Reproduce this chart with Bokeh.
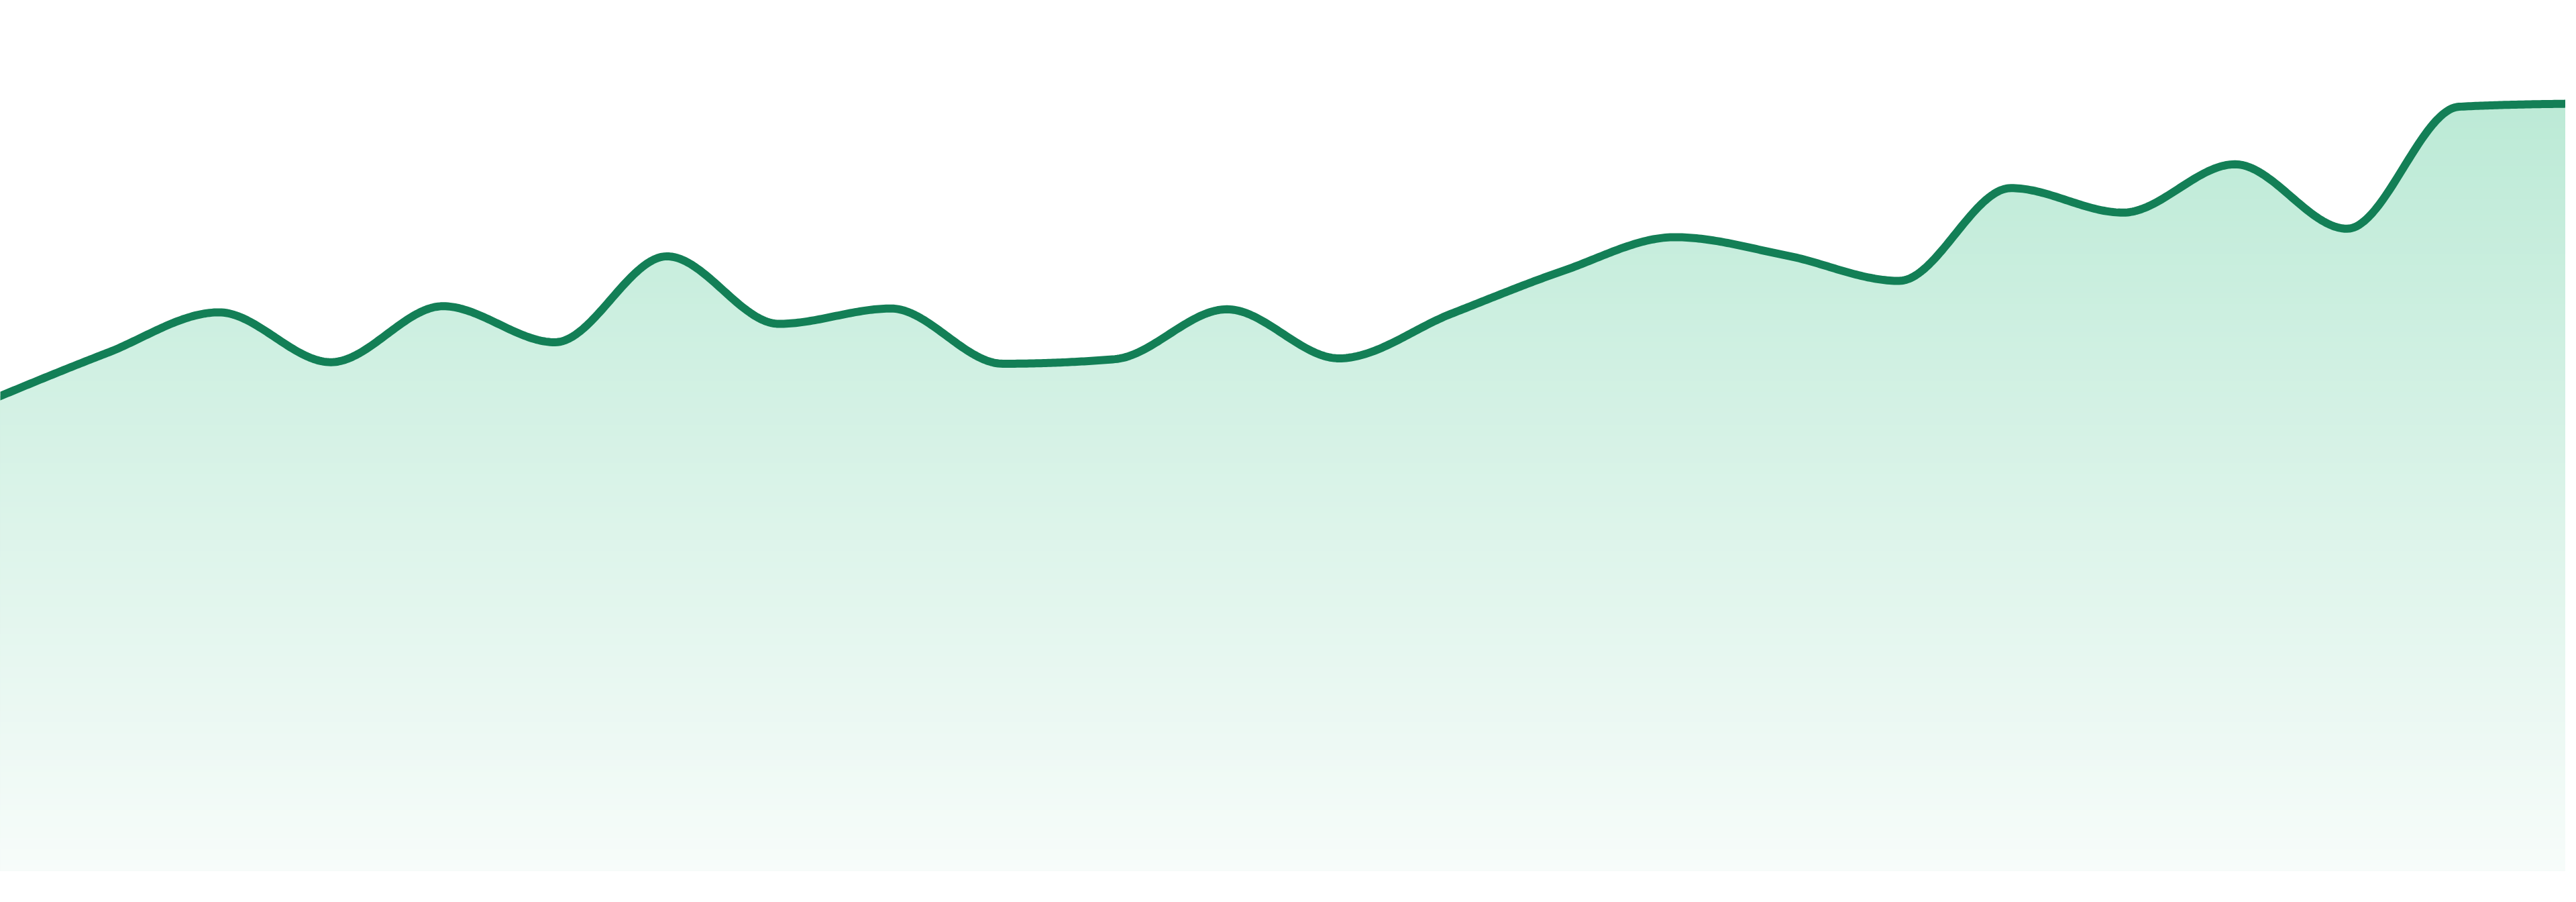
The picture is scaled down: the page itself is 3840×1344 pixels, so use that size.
import numpy as np
from bokeh.plotting import figure
from bokeh.models import Range1d
from bokeh.embed import file_html
from bokeh.resources import INLINE

# ---- data ----
periods = list(range(24))
values = [61.6, 67.5, 72.8, 66.3, 73.6, 68.9, 80.1, 71.3, 73.3, 66.1, 66.7, 73.2,
          66.8, 72.6, 78.2, 82.6, 80.2, 76.9, 89.0, 85.8, 92.1, 83.7, 99.6, 100.0]

LINE_COLOR = "#137f56"
TOP_RGB = (188, 234, 214)
BOTTOM_RGB = (247, 252, 250)


def monotone_x(xs, ys, n=48):
    """d3.curveMonotoneX rendering of the data points as cubic Bezier segments."""
    x = np.asarray(xs, float)
    y = np.asarray(ys, float)
    h = np.diff(x)
    s = np.diff(y) / h
    t = np.zeros_like(y)
    sgn = lambda v: -1.0 if v < 0 else 1.0
    for i in range(1, len(y) - 1):
        s0, s1 = s[i - 1], s[i]
        h0, h1 = h[i - 1], h[i]
        p = (s0 * h1 + s1 * h0) / (h0 + h1)
        t[i] = (sgn(s0) + sgn(s1)) * min(abs(s0), abs(s1), 0.5 * abs(p))
    t[0] = (3 * s[0] - t[1]) / 2
    t[-1] = (3 * s[-1] - t[-2]) / 2
    out_x, out_y = [], []
    u = np.linspace(0, 1, n)
    for i in range(len(y) - 1):
        dx = h[i] / 3.0
        P0 = (x[i], y[i])
        P1 = (x[i] + dx, y[i] + dx * t[i])
        P2 = (x[i + 1] - dx, y[i + 1] - dx * t[i + 1])
        P3 = (x[i + 1], y[i + 1])
        uu = u if i == 0 else u[1:]
        b0 = (1 - uu) ** 3
        b1 = 3 * (1 - uu) ** 2 * uu
        b2 = 3 * (1 - uu) * uu ** 2
        b3 = uu ** 3
        out_x.append(b0 * P0[0] + b1 * P1[0] + b2 * P2[0] + b3 * P3[0])
        out_y.append(b0 * P0[1] + b1 * P1[1] + b2 * P2[1] + b3 * P3[1])
    return np.concatenate(out_x), np.concatenate(out_y)


cx, cy = monotone_x(periods, values)

W, H = 3824, 1328
p = figure(width=W, height=H, output_backend="svg", toolbar_location=None,
           x_range=Range1d(8 * 23 / 3840, 3832 * 23 / 3840),
           y_range=Range1d((1305 - 1336) / 11.43, (1305 - 8) / 11.43),
           min_border=0)
p.axis.visible = False
p.xaxis.visible = False
p.yaxis.visible = False
p.grid.visible = False
p.outline_line_color = None
p.background_fill_color = "white"
p.border_fill_color = "white"

# vertical gradient fill: opaque strips drawn from top level down
vmax = max(values)
levels = np.linspace(0, vmax + 0.5, 141)
for k in range(len(levels) - 1, 0, -1):
    mid = 0.5 * (levels[k] + levels[k - 1])
    f = min(1.0, max(0.0, mid / vmax))
    col = tuple(int(round(BOTTOM_RGB[j] + (TOP_RGB[j] - BOTTOM_RGB[j]) * f)) for j in range(3))
    p.varea(x=cx, y1=np.zeros_like(cy), y2=np.minimum(cy, levels[k]),
            fill_color="#%02x%02x%02x" % col, fill_alpha=1.0)

p.line(cx, cy, line_color=LINE_COLOR, line_width=12, line_join="round", line_cap="round")

open("out.html", "w").write(file_html(p, INLINE))
